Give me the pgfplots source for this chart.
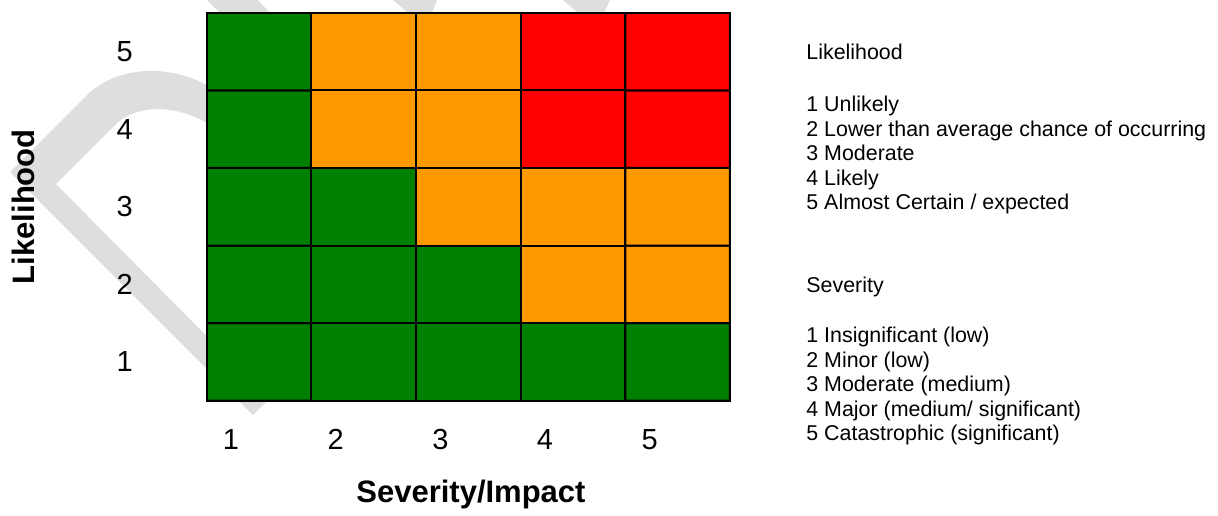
\documentclass[border=0pt]{standalone}
\usepackage{fontspec}
\setmainfont{Liberation Sans}
\usepackage{pgfplots}
\pgfplotsset{compat=1.18}
\usepackage{pgfplotstable}
\definecolor{wm}{RGB}{222,222,222}

\pgfplotstableread{
x y c
1 1 0
2 1 0
3 1 0
4 1 0
5 1 0
1 2 0
2 2 0
3 2 0
4 2 1
5 2 1
1 3 0
2 3 0
3 3 1
4 3 1
5 3 1
1 4 0
2 4 1
3 4 1
4 4 2
5 4 2
1 5 0
2 5 1
3 5 1
4 5 2
5 5 2
}\riskdata

\begin{document}
\begin{tikzpicture}
\begin{scope}[x=0.5pt,y=-0.5pt]
\useasboundingbox (0,0) rectangle (1218,511);
% faint watermark behind the matrix
\fill[wm] (253,415) -- (10,172) -- (88,94) .. controls (118,66) and (172,62) .. (215,90)
  -- (215,128) .. controls (180,104) and (140,104) .. (118,122) -- (56,184) -- (269,399) -- cycle;
\fill[wm] (207,0) -- (258,0) -- (270,13) -- (220,13) -- cycle;
\fill[wm] (393,0) -- (437,0) -- (432,13) -- (408,13) -- cycle;
\fill[wm] (563,0) -- (610,0) -- (604,13) -- (578,13) -- cycle;
\end{scope}
\begin{axis}[
  at={(103.35pt,-200.35pt)}, anchor=south west,
  scale only axis, width=261.65pt, height=194pt,
  xmin=0.5, xmax=5.5, ymin=0.5, ymax=5.5,
  xtick={1,...,5}, ytick={1,...,5},
  major tick length=0pt,
  axis line style={line width=1pt},
  /pgf/number format/assume math mode=true,
  ticklabel style={font=\fontsize{14.5}{17}\selectfont},
  xticklabel style={anchor=center, yshift=-19.5pt, xshift=-14pt},
  yticklabel style={anchor=center, xshift=-41pt},
  xlabel={Severity/Impact}, ylabel={Likelihood},
  every axis x label/.style={at={(axis description cs:0.505,-0.2423)}, anchor=center, font=\bfseries\fontsize{15.5}{18}\selectfont},
  every axis y label/.style={at={(axis description cs:-0.3497,0.5)}, anchor=center, rotate=90, font=\bfseries\fontsize{15.5}{18}\selectfont},
  colormap={risk}{rgb255=(0,128,0) rgb255=(255,153,0) rgb255=(255,0,0)},
  colormap access=direct,
  axis on top,
]
\addplot[matrix plot*, mesh/cols=5, point meta=explicit, shader=faceted, faceted color=black, line width=1pt]
  table[x=x, y=y, meta=c]{\riskdata};
\end{axis}
\begin{scope}[x=0.5pt,y=-0.5pt, every node/.style={anchor=base west, inner sep=0pt, font=\fontsize{10.7}{12}\selectfont}]
\node at (806,59.3) {Likelihood};
\node at (806,111.5) {1 Unlikely};
\node at (806,136) {2 Lower than average chance of occurring};
\node at (806,160.5) {3 Moderate};
\node at (806,185) {4 Likely};
\node at (806,209.5) {5 Almost Certain / expected};
\node at (806,292.3) {Severity};
\node at (806,342.7) {1 Insignificant (low)};
\node at (806,367) {2 Minor (low)};
\node at (806,391.5) {3 Moderate (medium)};
\node at (806,416) {4 Major (medium/ significant)};
\node at (806,440.5) {5 Catastrophic (significant)};
\end{scope}
\end{tikzpicture}
\end{document}
